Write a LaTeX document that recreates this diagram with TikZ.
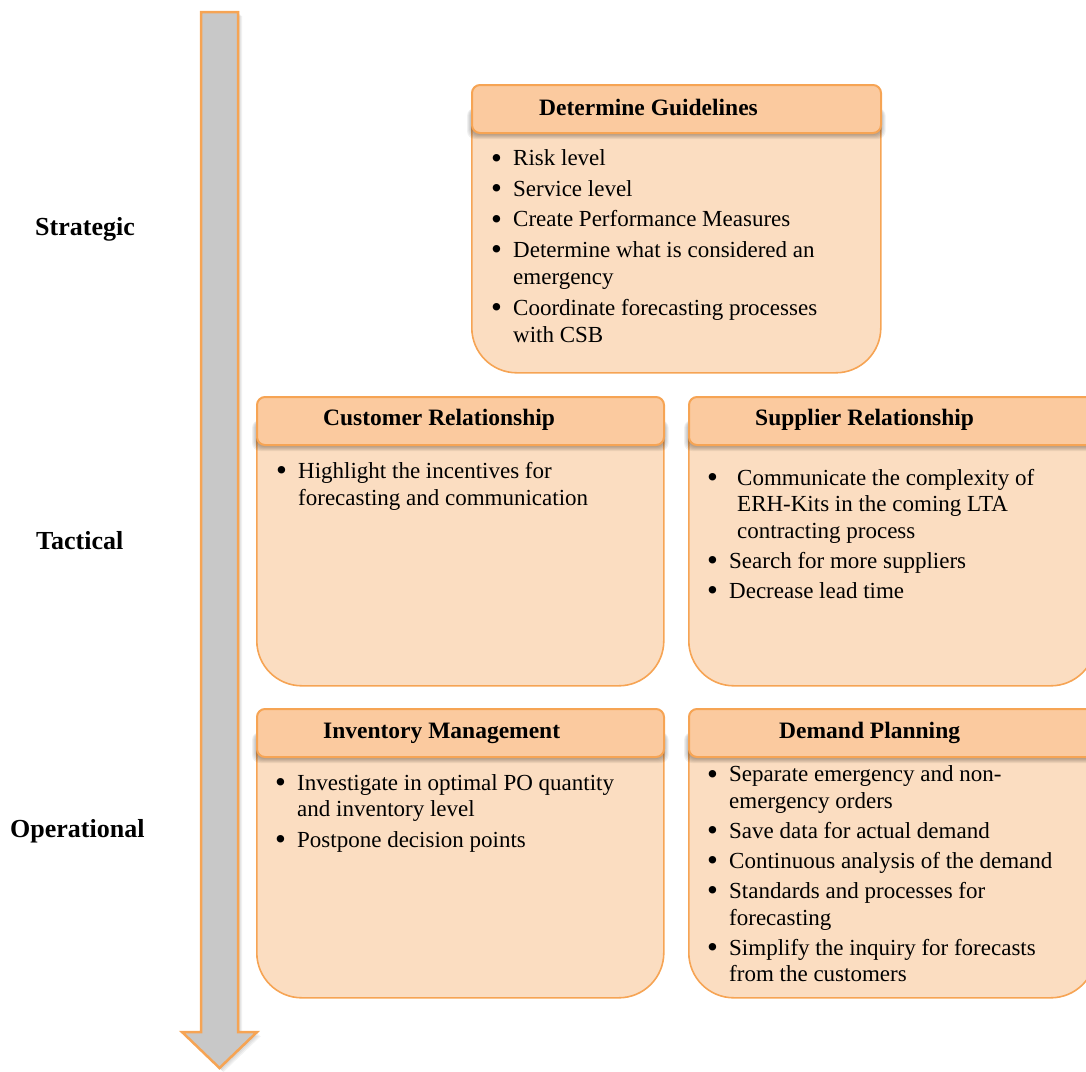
\documentclass[tikz,border=0pt]{standalone}
\usepackage{fontspec}
\setmainfont{Liberation Serif}
\usepackage{array}

\definecolor{edgeor}{RGB}{246,164,84}
\definecolor{headfill}{RGB}{251,202,159}
\definecolor{bodyfill}{RGB}{251,221,193}
\definecolor{arrowfill}{RGB}{200,200,200}

\tikzset{
  bodybox/.style={draw=edgeor, line width=1.6pt, fill=bodyfill, rounded corners=45pt,
    inner sep=0pt, anchor=north west},
  headbox/.style={draw=edgeor, line width=2pt, fill=headfill, rounded corners=8pt,
    inner sep=0pt, anchor=north west, minimum height=48pt},
  headtext/.style={anchor=base west, inner sep=0pt, font=\fontsize{23.5}{28}\selectfont\bfseries},
  bodytext/.style={anchor=base west, inner sep=0pt, font=\fontsize{23}{#1}\selectfont},
  bodytext/.default=26.7,
  leveltext/.style={anchor=base west, inner sep=0pt, font=\fontsize{26}{30}\selectfont\bfseries},
}

% bullet cell of fixed width, with a slightly enlarged dot
\newcommand\bul[1][21pt]{\makebox[#1][l]{\hspace*{-1pt}\raisebox{-2.5pt}{\scalebox{1.35}{\textbullet}}}}
% soft grey shadow under the 48pt header bar sitting on top of a body box
\newcommand\headshadow[1]{%
  \foreach \k in {0,...,4}{%
    \fill[black, opacity=0.06, rounded corners=8pt]
      ([xshift={-\k pt}, yshift={-51pt-\k pt}]#1.north west) rectangle ([xshift={\k pt}, yshift=-24pt]#1.north east);
  }%
}
% outline of the downward arrow
\def\arrowpath{(201,12) -- (238,12) -- (238,1032) -- (257,1032) -- (219.5,1068) -- (182,1032) -- (201,1032) -- cycle}

\begin{document}
\begin{tikzpicture}[x=1pt, y=-1pt]
\useasboundingbox (0,0) rectangle (1086,1071);

% level arrow
\foreach \k in {1,...,4}{\fill[black, opacity=0.05, shift={(\k,\k)}] \arrowpath;}
\filldraw[fill=arrowfill, draw=edgeor, line width=2.5pt, line join=miter] \arrowpath;

% level labels
\node[leveltext] (lv-str) at (35,235) {Strategic};
\node[leveltext] (lv-tac) at (36,549) {Tactical};
\node[leveltext] (lv-op)  at (10,837) {Operational};

% box bodies
\node[bodybox, minimum width=409pt, minimum height=288pt] (gl-body) at (471,84)  {};
\node[bodybox, minimum width=407pt, minimum height=289pt] (cr-body) at (256,396) {};
\node[bodybox, minimum width=407pt, minimum height=289pt] (sr-body) at (688,396) {};
\node[bodybox, minimum width=407pt, minimum height=289pt] (im-body) at (256,708) {};
\node[bodybox, minimum width=407pt, minimum height=289pt] (dp-body) at (688,708) {};

% shadows under the header bars
\headshadow{gl-body}
\headshadow{cr-body}
\headshadow{sr-body}
\headshadow{im-body}
\headshadow{dp-body}

% header bars
\node[headbox, minimum width=409pt] (gl-head) at (471,84)  {};
\node[headbox, minimum width=407pt] (cr-head) at (256,396) {};
\node[headbox, minimum width=407pt] (sr-head) at (688,396) {};
\node[headbox, minimum width=407pt] (im-head) at (256,708) {};
\node[headbox, minimum width=407pt] (dp-head) at (688,708) {};

% header titles
\node[headtext] (gl-title) at (539,115)   {Determine Guidelines};
\node[headtext] (cr-title) at (323,425)   {Customer Relationship};
\node[headtext] (sr-title) at (755,425)   {Supplier Relationship};
\node[headtext] (im-title) at (323,738.5) {Inventory Management};
\node[headtext] (dp-title) at (779,738.5) {Demand Planning};

% bullet lists
\node[bodytext=27.5] (gl-text) at (492,165.7) {%
\begin{tabular}[t]{@{}l@{}l@{}}
\bul & Risk level\\[3pt]
\bul & Service level\\[3pt]
\bul & Create Performance Measures\\[3pt]
\bul & Determine what is considered an\\
     & emergency\\[3pt]
\bul & Coordinate forecasting processes\\
     & with CSB
\end{tabular}};

\node[bodytext=27] (cr-text) at (277,478) {%
\begin{tabular}[t]{@{}l@{}l@{}}
\bul & Highlight the incentives for\\
     & forecasting and communication
\end{tabular}};

\node[bodytext] (sr-text) at (708,485) {%
\begin{tabular}[t]{@{}l@{}l@{}}
\bul & \hspace*{8pt}Communicate the complexity of\\
     & \hspace*{8pt}ERH-Kits in the coming LTA\\
     & \hspace*{8pt}contracting process\\[3.3pt]
\bul & Search for more suppliers\\[3.3pt]
\bul & Decrease lead time
\end{tabular}};

\node[bodytext] (im-text) at (276,790) {%
\begin{tabular}[t]{@{}l@{}l@{}}
\bul & Investigate in optimal PO quantity\\
     & and inventory level\\[3.9pt]
\bul & Postpone decision points
\end{tabular}};

\node[bodytext] (dp-text) at (708,781.7) {%
\begin{tabular}[t]{@{}l@{}l@{}}
\bul & Separate emergency and non-\\
     & emergency orders\\[3.3pt]
\bul & Save data for actual demand\\[3.3pt]
\bul & Continuous analysis of the demand\\[3.3pt]
\bul & Standards and processes for\\
     & forecasting\\[3.3pt]
\bul & Simplify the inquiry for forecasts\\
     & from the customers
\end{tabular}};
\end{tikzpicture}
\end{document}
